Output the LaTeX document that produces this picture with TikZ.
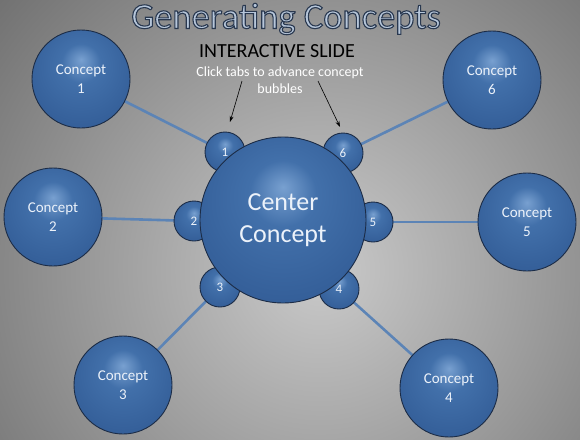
\documentclass[tikz,border=0pt]{standalone}
\usepackage{fontspec}
\setmainfont{Carlito}
\usetikzlibrary{arrows.meta}
\definecolor{bgin}{RGB}{202,202,202}
\definecolor{bgout}{RGB}{38,38,38}
\definecolor{bhl}{RGB}{120,160,208}
\definecolor{bmid}{RGB}{66,112,170}
\definecolor{bedge}{RGB}{50,92,150}
\definecolor{bdark}{RGB}{36,70,120}
\definecolor{boutline}{RGB}{28,44,70}
\definecolor{linkc}{RGB}{92,132,182}
\definecolor{btext}{RGB}{236,242,250}
\definecolor{titlefill}{RGB}{182,198,218}
\pgfdeclareradialshading{bubble}{\pgfpoint{0bp}{10bp}}{%
  color(0bp)=(bhl); color(10bp)=(bmid); color(32bp)=(bedge); color(44bp)=(bdark); color(50bp)=(bdark)}
\newcommand{\outlinedtext}[1]{%
  \special{pdf:literal direct 0.16 0.22 0.31 RG 1.1 w 2 Tr}#1\special{pdf:literal direct 0 Tr}}
\tikzset{
  ball/.style={circle, shading=bubble, draw=boutline, line width=0.9pt, inner sep=0pt, text=btext, align=center},
  concept/.style={ball, minimum size=98pt, font=\fontsize{15}{19}\selectfont},
  tab/.style={ball, minimum size=40pt, font=\fontsize{13}{15}\selectfont},
  centre/.style={ball, minimum size=166pt, font=\fontsize{26}{32}\selectfont},
  link/.style={draw=linkc, line width=2.6pt},
  pointer/.style={draw=black, line width=0.6pt, -{Stealth[length=6pt,width=4pt]}},
  titletxt/.style={font=\fontsize{36.5}{40}\selectfont},
}
\begin{document}
\begin{tikzpicture}[x=1pt,y=-1pt]
\useasboundingbox (0,0) rectangle (580,439);
\begin{scope}
\clip (0,0) rectangle (580,439);
\shade[inner color=bgin, outer color=bgout] (320,270) circle (780);
\end{scope}
\coordinate (pc) at (283,220);
\coordinate (c1p) at (81,79);
\coordinate (c2p) at (53,217);
\coordinate (c3p) at (123,385);
\coordinate (c4p) at (449,388);
\coordinate (c5p) at (527,222);
\coordinate (c6p) at (492,80);
\coordinate (t1p) at (225,152);
\coordinate (t2p) at (194,221);
\coordinate (t3p) at (220,287);
\coordinate (t4p) at (339,289);
\coordinate (t5p) at (373,222);
\coordinate (t6p) at (343,153);
% links (behind)
\draw[link] (c1p) -- (t1p);
\draw[link] (c2p) -- (t2p);
\draw[link] (c3p) -- (t3p);
\draw[link] (c4p) -- (t4p);
\draw[link] (c5p) -- (t5p);
\draw[link] (c6p) -- (t6p);
% tabs
\node[tab] (t1) at (t1p) {1};
\node[tab] (t2) at (t2p) {2};
\node[tab] (t3) at (t3p) {3};
\node[tab] (t4) at (t4p) {4};
\node[tab] (t5) at (t5p) {5};
\node[tab] (t6) at (t6p) {6};
% centre
\node[centre] (cc) at (pc) {Center\\Concept};
% concepts
\node[concept] (c1) at (c1p) {Concept\\1};
\node[concept] (c2) at (c2p) {Concept\\2};
\node[concept] (c3) at (c3p) {Concept\\3};
\node[concept] (c4) at (c4p) {Concept\\4};
\node[concept] (c5) at (c5p) {Concept\\5};
\node[concept] (c6) at (c6p) {Concept\\6};
% texts
\node[titletxt, text=titlefill] (title) at (286,19) {\outlinedtext{Generating Concepts}};
\node[font=\fontsize{20}{22}\selectfont, text=black] (inter) at (277,51) {INTERACTIVE SLIDE};
\node[font=\fontsize{14}{17}\selectfont, text=white, align=center] (click) at (280,80) {Click tabs to advance concept\\bubbles};
\coordinate (a1s) at (242,81);
\coordinate (a1e) at (230,122);
\coordinate (a2s) at (318,81);
\coordinate (a2e) at (340,127);
\draw[pointer] (a1s) -- (a1e);
\draw[pointer] (a2s) -- (a2e);
\end{tikzpicture}
\end{document}
